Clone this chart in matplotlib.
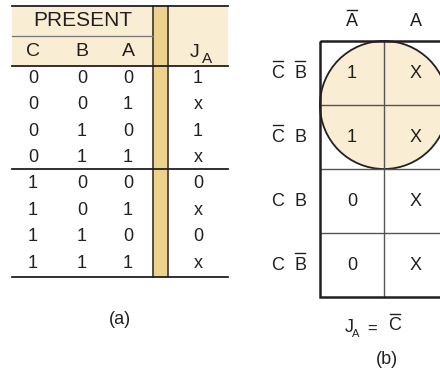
import matplotlib
matplotlib.use('Agg')
import matplotlib.pyplot as plt
from matplotlib.patches import Rectangle, Circle

plt.rcParams['font.family'] = ['Liberation Sans', 'DejaVu Sans']

# truth table (a)
col_C = [0, 0, 0, 0, 1, 1, 1, 1]
col_B = [0, 0, 1, 1, 0, 0, 1, 1]
col_A = [0, 1, 0, 1, 0, 1, 0, 1]
col_JA = ['1', 'x', '1', 'x', '0', 'x', '0', 'x']

# K-map (b): rows C'B', C'B, CB, CB' ; columns A', A
kmap = [['1', 'X'],
        ['1', 'X'],
        ['0', 'X'],
        ['0', 'X']]
row_labels = [[('C', True), ('B', True)],
              [('C', True), ('B', False)],
              [('C', False), ('B', False)],
              [('C', False), ('B', True)]]
col_labels = [('A', True), ('A', False)]

INK = '#231f20'
CREAM = '#f9edd3'
TAN = '#edd28e'
FS = 13

fig = plt.figure(figsize=(4.4, 3.75), dpi=100)
ax = fig.add_axes([0, 0, 1, 1])
ax.set_xlim(0, 440)
ax.set_ylim(375, 0)
ax.axis('off')

# ---- table (a) ----
L, R, TOP, H1, H2, RH = 12, 228, 6, 36, 66, 26.4
BAR0, BAR1 = 153, 168
xs = [33, 82, 128]
xj = 198
bottom = H2 + RH * len(col_JA)

ax.add_patch(Rectangle((L, TOP), BAR0 - L, H2 - TOP, fc=CREAM, ec='none'))
ax.add_patch(Rectangle((BAR1, TOP), R - BAR1, H2 - TOP, fc=CREAM, ec='none'))
ax.add_patch(Rectangle((BAR0, TOP), BAR1 - BAR0, bottom - TOP, fc=TAN, ec='none'))
ax.plot([BAR0, BAR0], [TOP, bottom], color='#4a4038', lw=1.3)
ax.plot([BAR1, BAR1], [TOP, bottom], color='#4a4038', lw=1.3)

ax.plot([L, R], [TOP, TOP], color=INK, lw=1.3)
ax.plot([L, BAR0], [H1, H1], color='#777', lw=0.9)
ax.plot([L, R], [H2, H2], color=INK, lw=1.3)
ax.plot([L, R], [H2 + 4 * RH - 3, H2 + 4 * RH - 3], color=INK, lw=1.3)
ax.plot([L, R], [bottom, bottom], color=INK, lw=1.3)

ax.text((L + BAR0) / 2, 21, 'PRESENT', ha='center', va='center', fontsize=FS + 2, color=INK)
for x, s in zip(xs, ['C', 'B', 'A']):
    ax.text(x, 52, s, ha='center', va='center', fontsize=FS + 1, color=INK)
ax.text(xj - 3, 57, 'J', ha='center', va='baseline', fontsize=FS + 1, color=INK)
ax.text(xj + 9, 63, 'A', ha='center', va='baseline', fontsize=FS - 2, color=INK)

for i, (c, b, a, j) in enumerate(zip(col_C, col_B, col_A, col_JA)):
    y = H2 + RH * (i + 0.5) - 1
    for x, v in zip(xs + [xj], [c, b, a, j]):
        ax.text(x, y, str(v), ha='center', va='center', fontsize=FS, color=INK)

ax.text(120, 320, '(a)', ha='center', va='center', fontsize=FS, color=INK)

# ---- K-map (b) ----
KX, KY, CW, CH = 320, 41, 64, 64
nr, nc = len(kmap), len(kmap[0])

ax.add_patch(Circle((KX + CW, KY + CH), CW, fc=CREAM, ec=INK, lw=1.3, zorder=1))
for k in range(1, nr):
    ax.plot([KX, KX + nc * CW], [KY + k * CH] * 2, color='#555', lw=1.0, zorder=2)
for k in range(1, nc):
    ax.plot([KX + k * CW] * 2, [KY, KY + nr * CH], color='#555', lw=1.0, zorder=2)
ax.add_patch(Rectangle((KX, KY), nc * CW, nr * CH, fc='none', ec=INK, lw=1.8, zorder=3))

for r in range(nr):
    for c in range(nc):
        ax.text(KX + CW * (c + 0.5), KY + CH * (r + 0.5), kmap[r][c],
                ha='center', va='center', fontsize=FS, color=INK, zorder=4)


def letter(x, y, s, bar, size=FS):
    ax.text(x, y, s, ha='center', va='center', fontsize=size, color=INK)
    if bar:
        ax.plot([x - 5, x + 5], [y - 12, y - 12], color=INK, lw=1.0)


for r, labs in enumerate(row_labels):
    y = KY + CH * (r + 0.5)
    for x, (s, bar) in zip([278, 300], labs):
        letter(x, y, s, bar)

for c, (s, bar) in enumerate(col_labels):
    letter(KX + CW * (c + 0.5), 22, s, bar)

ax.text(349, 332, 'J', ha='center', va='baseline', fontsize=FS, color=INK)
ax.text(356, 337, 'A', ha='center', va='baseline', fontsize=FS - 5, color=INK)
ax.text(372, 329, '=', ha='center', va='center', fontsize=FS - 1, color=INK)
letter(395, 326, 'C', True)
ax.text(387, 360, '(b)', ha='center', va='center', fontsize=FS, color=INK)

fig.savefig('out.png', dpi=100, facecolor='white')
